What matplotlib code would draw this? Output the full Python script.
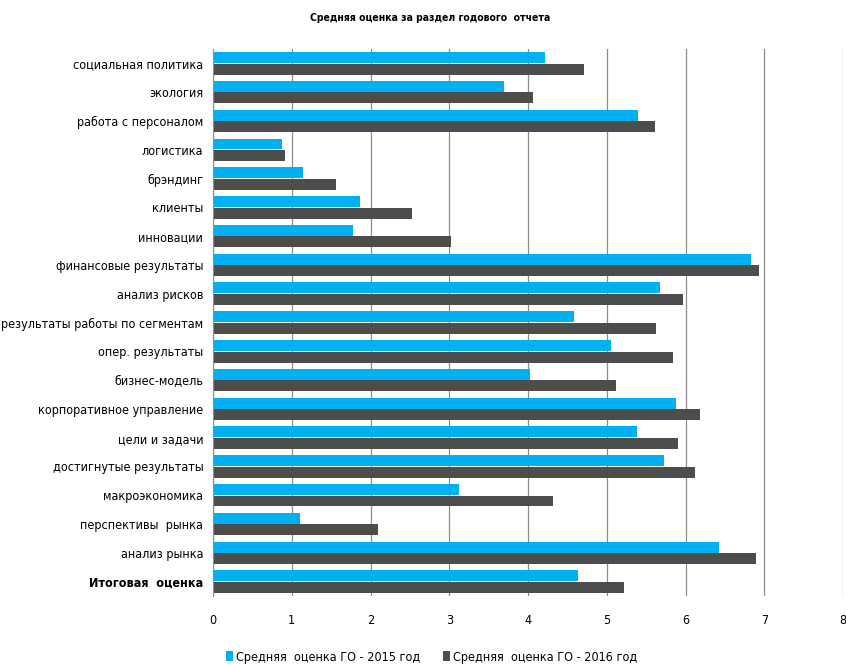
from matplotlib import pyplot as plt
import numpy as np

categories = [
    "социальная политика",
    "экология",
    "работа с персоналом",
    "логистика",
    "брэндинг",
    "клиенты",
    "инновации",
    "финансовые результаты",
    "анализ рисков",
    "результаты работы по сегментам",
    "опер. результаты",
    "бизнес-модель",
    "корпоративное управление",
    "цели и задачи",
    "достигнутые результаты",
    "макроэкономика",
    "перспективы  рынка",
    "анализ рынка",
    "Итоговая  оценка",
]
scores_2015 = [4.21, 3.70, 5.40, 0.88, 1.14, 1.87, 1.78, 6.83, 5.67, 4.58,
               5.05, 4.03, 5.88, 5.39, 5.73, 3.12, 1.10, 6.43, 4.63]
scores_2016 = [4.71, 4.06, 5.61, 0.92, 1.56, 2.53, 3.02, 6.93, 5.97, 5.62,
               5.84, 5.12, 6.18, 5.91, 6.12, 4.32, 2.10, 6.89, 5.22]
label_2015 = "Средняя  оценка ГО - 2015 год"
label_2016 = "Средняя  оценка ГО - 2016 год"
title = "Средняя оценка за раздел годового  отчета"

# narrow labels, close to the condensed look of the original
plt.rcParams["font.family"] = ["DejaVu Sans"]
plt.rcParams["font.stretch"] = "condensed"

fig = plt.figure(figsize=(8.46, 6.64), dpi=100)
ax = fig.add_axes([213 / 846, 1 - 596 / 664, 630 / 846, 547 / 664])

y = np.arange(len(categories))
h = 0.38
ax.barh(y - 0.2, scores_2015, height=h, color="#00B0F0", label=label_2015)
ax.barh(y + 0.2, scores_2016, height=h, color="#4D4D4D", label=label_2016)

ax.set_ylim(len(categories) - 0.5, -0.5)
ax.set_xlim(0, 8)
ax.set_xticks(range(9))
ax.set_yticks(y)
ax.set_yticklabels(categories, fontsize=9)
ax.get_yticklabels()[-1].set_fontweight("bold")
ax.tick_params(axis="y", length=0, pad=7)
ax.tick_params(axis="x", length=0, pad=13, labelsize=9)

ax.grid(axis="x", color="#8C8C8C", linewidth=0.9)
ax.set_axisbelow(True)
for side in ["top", "right", "bottom"]:
    ax.spines[side].set_visible(False)
ax.spines["left"].set_color("#8C8C8C")

fig.text(0.508, 1 - 18 / 664, title, ha="center", va="center",
         fontsize=7.5, fontweight="bold")

fig.legend(loc="center", bbox_to_anchor=(0.51, 1 - 657 / 664), ncol=2,
           frameon=False, fontsize=9, handlelength=0.6, handleheight=0.9,
           handletextpad=0.2, columnspacing=1.8)

plt.savefig("out.png")
